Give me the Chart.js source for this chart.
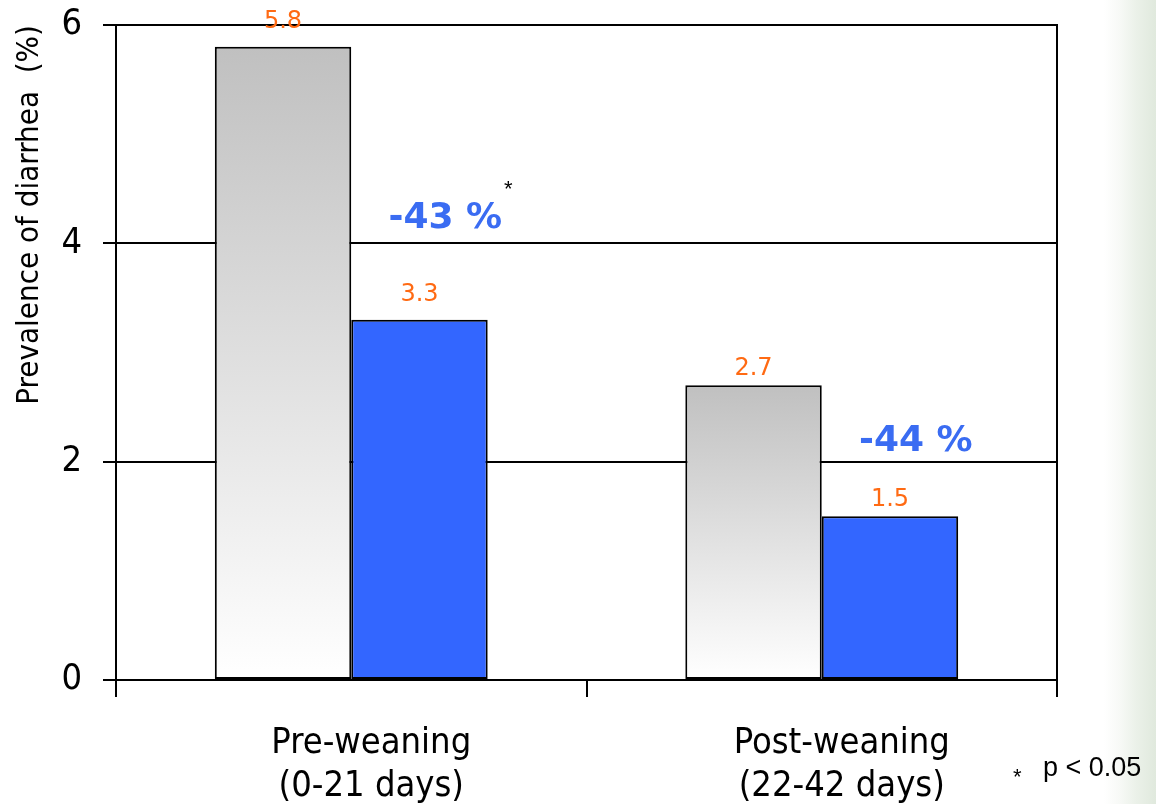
<!DOCTYPE html>
<html>
<head>
<meta charset="utf-8">
<script src="https://cdn.jsdelivr.net/npm/chart.js@4"></script>
<style>
  html, body { margin: 0; padding: 0; width: 1156px; height: 804px; overflow: hidden;
    background: linear-gradient(to right, #ffffff 0, #ffffff 1104px, #f7f9f6 1120px, #ebf1e9 1136px, #e0e9dd 1156px); }
  #wrap { position: relative; width: 1156px; height: 804px; }
</style>
</head>
<body>
<div id="wrap"><canvas id="c"></canvas></div>
<script>
// Rearing periods (two-line category labels)
const periods = [['Pre-weaning', '(0-21 days)'], ['Post-weaning', '(22-42 days)']];
// Prevalence of diarrhea (%) per period
const controlValues = [5.8, 2.7];
const treatedValues = [3.3, 1.5];
// Y-axis tick values
const yTicks = [0, 2, 4, 6];
// Periods where the reduction is significant
const significant = [true, false];

// Drawing settings
const FONT_TICK = 'DejaVu Sans Condensed';
const FONT_LABEL = 'DejaVu Sans';
const FONT_TEXT = 'Liberation Sans';
const ORANGE = '#ff6a13';
const BLUE = '#3366ff';
const NOTE_BLUE = '#3a6cf2';
const labelLift = [13, 4];          // px between bar top and its value label, per period
const noteOffset = [0.2, 0.2];      // reduction note: shift from period centre (in periods)
const noteLift = [0.93, 0.68];      // reduction note: height above treated bar (axis units)

function grayFill(ctx) {
  const chart = ctx.chart;
  const y = chart.scales.y;
  if (!y || ctx.type !== 'data' || !chart.chartArea) return '#c0c0c0';
  const top = y.getPixelForValue(ctx.raw);
  const bottom = y.getPixelForValue(0);
  const g = chart.ctx.createLinearGradient(0, top, 0, bottom);
  g.addColorStop(0, '#c0c0c0');
  g.addColorStop(1, '#ffffff');
  return g;
}

// Value labels, reduction notes and the significance footnote
const annotations = {
  id: 'annotations',
  afterDatasetsDraw(chart) {
    const c = chart.ctx;
    const xs = chart.scales.x, ys = chart.scales.y;
    c.save();
    c.font = '24px "' + FONT_LABEL + '"';
    c.fillStyle = ORANGE;
    c.textAlign = 'center';
    c.textBaseline = 'bottom';
    chart.data.datasets.forEach((ds, i) => {
      chart.getDatasetMeta(i).data.forEach((bar, j) => {
        c.fillText(String(ds.data[j]), bar.x, bar.y - labelLift[j]);
      });
    });
    c.font = 'bold 36px "' + FONT_LABEL + '"';
    c.fillStyle = NOTE_BLUE;
    c.textBaseline = 'middle';
    controlValues.forEach((v, j) => {
      const pct = Math.round((treatedValues[j] - v) / v * 100);
      const text = pct + ' %';
      const px = xs.getPixelForValue(j + noteOffset[j]);
      const py = ys.getPixelForValue(treatedValues[j] + noteLift[j]);
      c.fillText(text, px, py);
      if (significant[j]) {
        const w = c.measureText(text).width;
        c.font = '22px "' + FONT_TEXT + '"';
        c.fillStyle = '#000';
        c.fillText('*', px + w / 2 + 6, py - 28);
        c.font = 'bold 36px "' + FONT_LABEL + '"';
        c.fillStyle = NOTE_BLUE;
      }
    });
    c.fillStyle = '#000';
    c.textAlign = 'left';
    c.font = '22px "' + FONT_TEXT + '"';
    c.fillText('*', chart.width - 143, chart.height - 26);
    c.font = '27px "' + FONT_TEXT + '"';
    c.fillText('p < 0.05', chart.width - 113, chart.height - 35);
    c.restore();
  }
};

new Chart(document.getElementById('c'), {
  type: 'bar',
  data: {
    labels: periods,
    datasets: [
      { label: 'Control', data: controlValues, backgroundColor: grayFill,
        borderColor: '#000', borderWidth: 2, borderSkipped: false },
      { label: 'Treated', data: treatedValues, backgroundColor: BLUE,
        borderColor: '#000', borderWidth: 2, borderSkipped: false }
    ]
  },
  options: {
    responsive: true,
    maintainAspectRatio: false,
    animation: false,
    devicePixelRatio: 1,
    layout: { padding: { top: 25, left: 0, right: 0, bottom: 0 } },
    categoryPercentage: 0.58,
    barPercentage: 1.0,
    plugins: { legend: { display: false }, tooltip: { enabled: false } },
    scales: {
      x: {
        offset: true,
        grid: { drawOnChartArea: false, drawTicks: true, tickLength: 17, color: '#000', lineWidth: 2, offset: true },
        border: { display: true, color: '#000', width: 2 },
        ticks: { color: '#000', font: { family: FONT_TICK, size: 36, lineHeight: 1.17 }, padding: 26, maxRotation: 0, labelOffset: 20 },
        afterFit: s => { s.height = 124; s.paddingLeft = 0; s.paddingRight = 0; }
      },
      y: {
        min: 0, max: 6,
        afterBuildTicks: s => { s.ticks = yTicks.map(v => ({ value: v })); },
        grid: { color: '#000', lineWidth: 2, tickLength: 13 },
        border: { display: true, color: '#000', width: 2 },
        ticks: { color: '#000', font: { family: FONT_TICK, size: 36 }, padding: 21, crossAlign: 'near' },
        title: { display: true, text: 'Prevalence of diarrhea  (%)', align: 'end', color: '#000',
                 font: { family: FONT_TICK, size: 31 }, padding: { top: 11, bottom: 0 } },
        afterFit: s => { s.width = 116; s.paddingTop = 0; s.paddingBottom = 0; }
      },
      y2: {
        position: 'right', min: 0, max: 6,
        grid: { drawOnChartArea: false, drawTicks: false },
        border: { display: true, color: '#000', width: 2 },
        ticks: { display: false },
        afterFit: s => { s.width = 99; s.paddingTop = 0; s.paddingBottom = 0; }
      }
    }
  },
  plugins: [annotations]
});
</script>
</body>
</html>
